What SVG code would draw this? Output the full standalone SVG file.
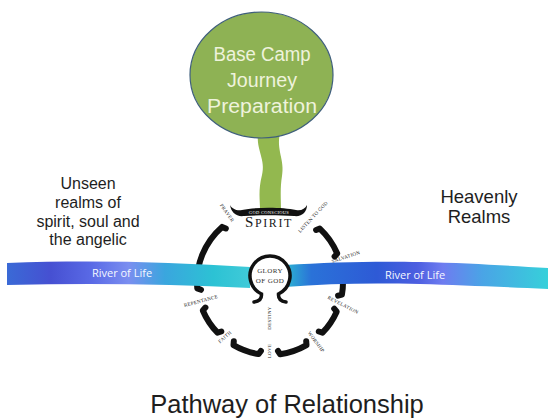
<svg xmlns="http://www.w3.org/2000/svg" width="548" height="419" viewBox="0 0 548 419">
<style>
.lbl{font-family:"Liberation Sans",Arial,sans-serif;fill:#1e1e1e;text-anchor:middle}
.tiny{font-family:"Liberation Serif","Times New Roman",serif;font-size:5px;fill:#1e1e1e;text-anchor:middle;letter-spacing:0.3px}
.arc{fill:none;stroke:#111;stroke-width:6;stroke-linecap:round;stroke-linejoin:round}
.river{font-family:"Open Sans","Liberation Sans",sans-serif;font-size:11px;fill:#f4f8ff;text-anchor:middle}
</style>
<defs>
<linearGradient id="gL" x1="7" y1="0" x2="250" y2="0" gradientUnits="userSpaceOnUse">
<stop offset="0" stop-color="#3a6ad6"/>
<stop offset="0.18" stop-color="#4650d2"/>
<stop offset="0.35" stop-color="#5a6ae6"/>
<stop offset="0.5" stop-color="#7a8ef0"/>
<stop offset="0.65" stop-color="#3aa6de"/>
<stop offset="0.85" stop-color="#2cc2d4"/>
<stop offset="1" stop-color="#40cad8"/>
</linearGradient>
<linearGradient id="gR" x1="285" y1="0" x2="548" y2="0" gradientUnits="userSpaceOnUse">
<stop offset="0" stop-color="#2cb6d2"/>
<stop offset="0.1" stop-color="#2a72d8"/>
<stop offset="0.35" stop-color="#2e5ad6"/>
<stop offset="0.5" stop-color="#4c5ee0"/>
<stop offset="0.6" stop-color="#6e7cf0"/>
<stop offset="0.75" stop-color="#4aa4e6"/>
<stop offset="1" stop-color="#36d0da"/>
</linearGradient>
</defs>
<rect width="548" height="419" fill="#ffffff"/>

<g id="connectors">
<path id="stem" d="M258,133 C256,150 266,160 262,175 C258,190 260,200 260,210 L281,210 C281,198 280,188 282,176 C285,160 276,150 280,133 Z" fill="#93b84f"/>
</g>

<g id="base-camp">
<ellipse cx="261.5" cy="75" rx="71.5" ry="63" fill="#8eb254" stroke="#3f5f7c" stroke-width="1.2"/>
<g font-family="Liberation Sans,Arial,sans-serif" font-size="20" fill="#eef3dc" text-anchor="middle">
<text x="262" y="61" textLength="97" lengthAdjust="spacingAndGlyphs">Base Camp</text>
<text x="262" y="87" textLength="70" lengthAdjust="spacingAndGlyphs">Journey</text>
<text x="262" y="113" textLength="110" lengthAdjust="spacingAndGlyphs">Preparation</text>
</g>
</g>

<g id="spirit-wheel">
<path id="banner" d="M230,205 C231,212 236,217 244,216 C258,215 280,215 294,216 C302,217 307,212 307,205 C305,209 301,211 296,210 C282,207 256,207 242,210 C237,211 232,209 230,205 Z" fill="#111"/>
<text x="269" y="213.5" font-family="Liberation Serif,serif" font-size="4.5" fill="#fff" text-anchor="middle" letter-spacing="0.3">GOD CONSCIOUS</text>
<text x="269" y="227" font-family="Liberation Serif,'Times New Roman',serif" fill="#1a1a1a" text-anchor="middle" letter-spacing="1.6"><tspan font-size="15">S</tspan><tspan font-size="12">PIRIT</tspan></text>
<path class="arc" d="M316.1,230 L319.8,228.6 A73 73 0 0 1 337.2,253.5 L334.6,256.5"/>
<path class="arc" d="M338.1,268.3 L341.9,269.3 A73 73 0 0 1 341.9,294.7 L338.1,295.7"/>
<path class="arc" d="M334.2,308.7 L336.7,311.7 A73 73 0 0 1 322.5,332.7 L318.8,331.5"/>
<path class="arc" d="M306.2,341.3 L306.5,345.2 A73 73 0 0 1 280.2,354.3 L278,351"/>
<path class="arc" d="M260.9,350.9 L258.6,354.1 A73 73 0 0 1 233.5,345.2 L233.8,341.3"/>
<path class="arc" d="M221.3,331.5 L217.5,332.7 A73 73 0 0 1 202.8,310.5 L205.4,307.6"/>
<path class="arc" d="M201,289.8 L197.3,288.4 A73 73 0 0 1 222.1,226.9 L225.8,228.5"/>
<text class="tiny" transform="translate(227,213) rotate(55)" y="1.5">PRAYER</text>
<text class="tiny" transform="translate(313,217) rotate(-47)" y="1.5">LISTEN TO GOD</text>
<text class="tiny" transform="translate(346,257) rotate(-18)" y="1.5">SALVATION</text>
<text class="tiny" transform="translate(343,305) rotate(27)" y="1.5">REVELATION</text>
<text class="tiny" transform="translate(316,342) rotate(53)" y="1.5">WORSHIP</text>
<text class="tiny" transform="translate(269,351) rotate(-90)" y="1.5">LOVE</text>
<text class="tiny" transform="translate(225,337) rotate(-42)" y="1.5">FAITH</text>
<text class="tiny" transform="translate(201,301) rotate(-15)" y="1.5">REPENTANCE</text>
</g>

<g id="river-left">
<path d="M7,263 C90,260 170,262 250,267 L250,288 C170,284 90,283 7,285 Z" fill="url(#gL)"/>
<text class="river" x="122" y="277">River of Life</text>
</g>
<g id="river-right">
<path d="M285,265 C330,262 380,261 420,262 C470,263 510,266 548,268 L548,289 C500,287 460,285 420,284 C380,283 330,283 285,287 Z" fill="url(#gR)"/>
<text class="river" x="415" y="279">River of Life</text>
</g>

<g id="glory">
<circle cx="270" cy="276" r="19" fill="#ffffff"/>
<path d="M254,302 Q262,301 261.5,294 A20 20 0 1 1 278.5,294 Q278,301 286,302" fill="none" stroke="#111" stroke-width="3.5" stroke-linecap="round"/>
<text x="270" y="273" font-family="Liberation Serif,serif" font-size="7" fill="#333" text-anchor="middle" letter-spacing="0.4">GLORY</text>
<text x="270" y="283" font-family="Liberation Serif,serif" font-size="7" fill="#333" text-anchor="middle" letter-spacing="0.4">OF GOD</text>
<text class="tiny" transform="translate(269,318) rotate(-90)" y="1.5">DESTINY</text>
</g>

<g id="unseen-realms">
<text class="lbl" font-size="16" x="88" y="189">Unseen</text>
<text class="lbl" font-size="16" x="88" y="208">realms of</text>
<text class="lbl" font-size="16" x="88" y="227">spirit, soul and</text>
<text class="lbl" font-size="16" x="88" y="245">the angelic</text>
</g>
<g id="heavenly-realms">
<text class="lbl" font-size="18.5" x="479" y="203">Heavenly</text>
<text class="lbl" font-size="18.5" x="479" y="223">Realms</text>
</g>
<g id="title">
<text class="lbl" font-size="25.5" x="287" y="413">Pathway of Relationship</text>
</g>
</svg>
